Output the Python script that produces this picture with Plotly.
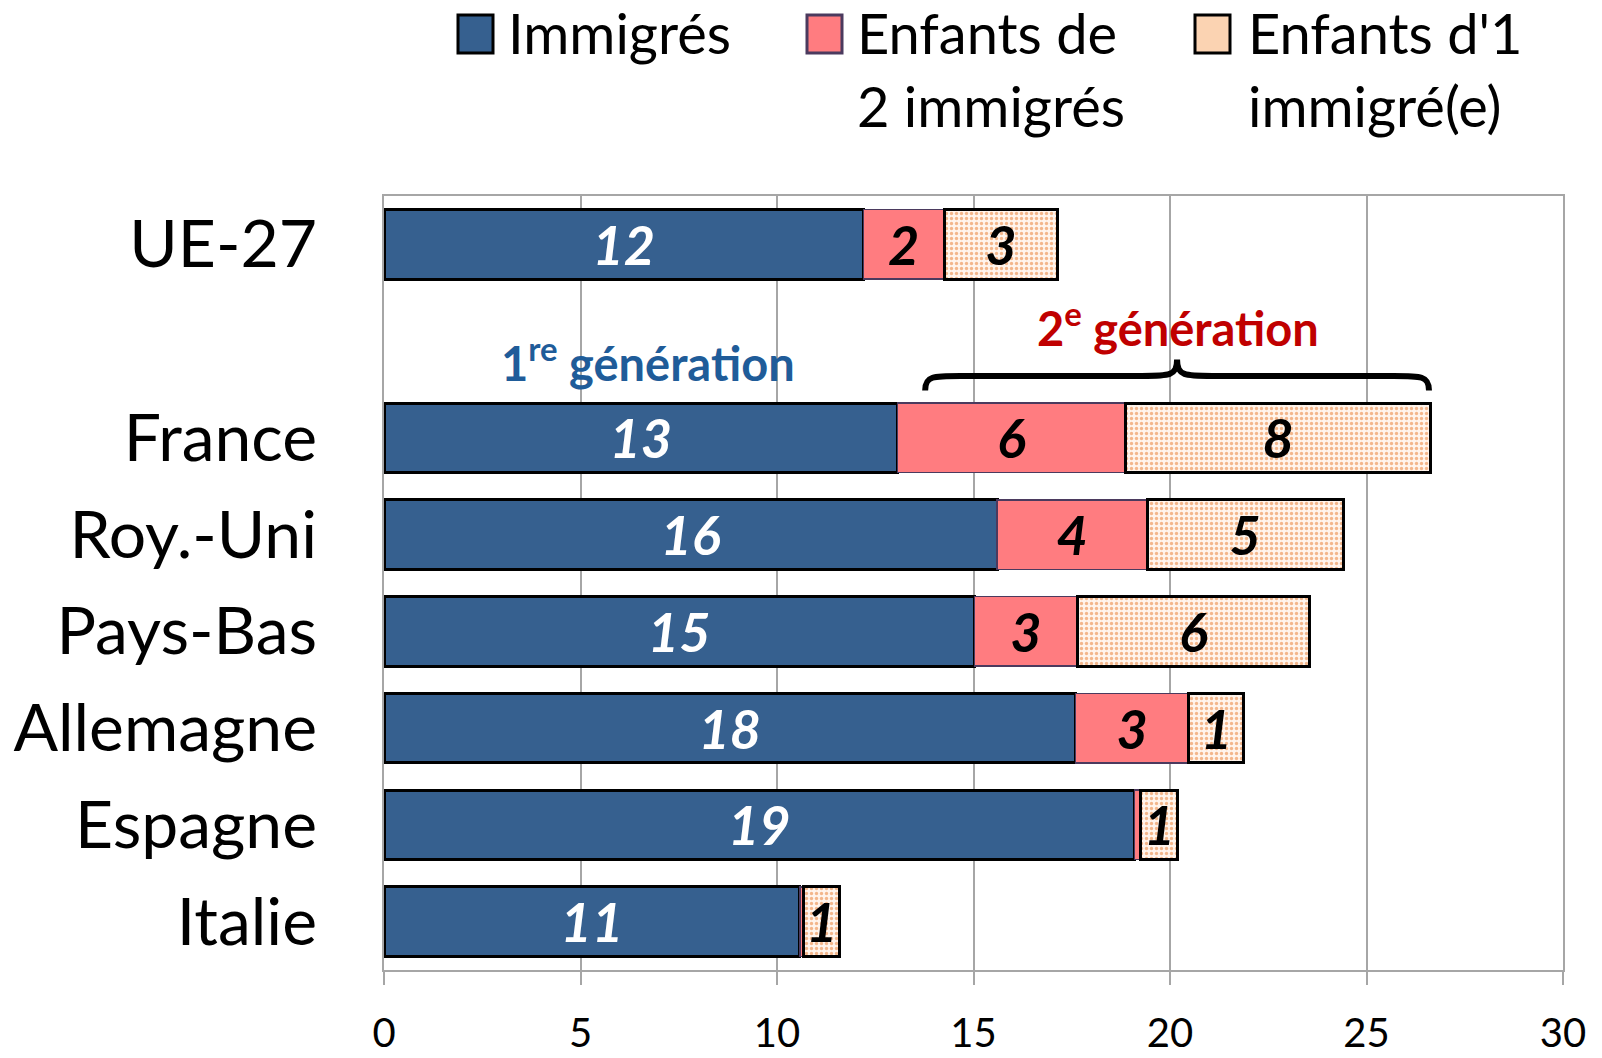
import plotly.graph_objects as go

countries = ["UE-27", "France", "Roy.-Uni", "Pays-Bas", "Allemagne", "Espagne", "Italie"]
immigres = [12.2, 13.07, 15.6, 15.02, 17.6, 19.1, 10.58]
enfants_2 = [2.05, 5.8, 3.82, 2.63, 2.88, 0.16, 0.1]
enfants_1 = [2.9, 7.77, 4.99, 5.9, 1.4, 0.94, 0.91]
lbl_immigres = ["12", "13", "16", "15", "18", "19", "11"]
lbl_enfants_2 = ["2", "6", "4", "3", "3", "", ""]
lbl_enfants_1 = ["3", "8", "5", "6", "1", "1", "1"]
legend_names = ["Immigrés", "Enfants de<br>2 immigrés", "Enfants d'1<br>immigré(e)"]
x_ticks = [0, 5, 10, 15, 20, 25, 30]

n = len(countries)
# one empty slot between UE-27 and the countries
ypos = [n - i if i == 0 else n - 1 - i for i in range(n)]

W, H = 1602, 1058
L, T = 384, 196
R = W - 1563
B = H - 970
PW, PH = W - L - R, H - T - B


def px2x(px):
    return (px - L) / PW


def px2y(py):
    return (H - B - py) / PH


FONT = "Lato, Carlito, 'Liberation Sans', sans-serif"
BLUE = "#36608F"
PINK = "#FF7C80"
LBL = 54

fig = go.Figure()
fig.add_trace(go.Bar(
    y=ypos, x=immigres, orientation="h", width=0.72, name=legend_names[0],
    marker=dict(color=BLUE, line=dict(color="black", width=3)),
    text=lbl_immigres, textposition="inside", insidetextanchor="middle",
    textangle=0, constraintext="none",
    textfont=dict(family=FONT, size=LBL, color="white", weight="bold", style="italic"),
))
fig.add_trace(go.Bar(
    y=ypos, x=enfants_2, orientation="h", width=0.72, name=legend_names[1],
    marker=dict(color=PINK, line=dict(color="#4B3A5E", width=1.5)),
    text=lbl_enfants_2, textposition="inside", insidetextanchor="middle",
    textangle=0, constraintext="none",
    textfont=dict(family=FONT, size=LBL, color="black", weight="bold", style="italic"),
))
fig.add_trace(go.Bar(
    y=ypos, x=enfants_1, orientation="h", width=0.72, name=legend_names[2],
    marker=dict(color="#FFF4EC", line=dict(color="black", width=3),
                pattern=dict(shape=".", fgcolor="#E8782A", size=5, solidity=0.35)),
    text=lbl_enfants_1, textposition="inside", insidetextanchor="middle",
    textangle=0, constraintext="none",
    textfont=dict(family=FONT, size=LBL, color="black", weight="bold", style="italic"),
))

GRID = "#A6A6A6"
fig.update_layout(
    width=W, height=H, barmode="stack", showlegend=False,
    margin=dict(l=L, r=R, t=T, b=B, pad=0, autoexpand=False),
    paper_bgcolor="white", plot_bgcolor="white",
    font=dict(family=FONT, color="black"),
    xaxis=dict(range=[x_ticks[0], x_ticks[-1]], tickvals=x_ticks, showgrid=True,
               gridcolor=GRID, gridwidth=1.5, zeroline=False, showline=True,
               linecolor=GRID, linewidth=1.5, mirror=True, ticks="outside",
               ticklen=13, tickwidth=1.5, tickcolor=GRID, automargin=False,
               tickfont=dict(family=FONT, size=40), ticklabelstandoff=14),
    yaxis=dict(range=[-0.5, n + 0.5], tickvals=ypos, ticktext=countries,
               showgrid=False, zeroline=False, showline=True, linecolor=GRID,
               linewidth=1.5, mirror=True, ticks="", automargin=False,
               tickfont=dict(family=FONT, size=66), ticklabelstandoff=52),
)

# Brace over France's second generation segments
fr = countries.index("France")
bx0 = immigres[fr] + 0.7
bx1 = immigres[fr] + enfants_2[fr] + enfants_1[fr] - 0.05
bm = (bx0 + bx1) / 2
gy = ypos[fr] + 1  # the empty slot
yb, ya, yt = gy - 0.51, gy - 0.36, gy - 0.19
d = 0.9
path = (f"M {bx0},{yb} C {bx0},{ya} {bx0+0.2},{ya} {bx0+d},{ya} "
        f"L {bm-d},{ya} C {bm-0.2},{ya} {bm},{ya} {bm},{yt} "
        f"C {bm},{ya} {bm+0.2},{ya} {bm+d},{ya} "
        f"L {bx1-d},{ya} C {bx1-0.2},{ya} {bx1},{ya} {bx1},{yb}")
fig.add_shape(type="path", path=path, xref="x", yref="y",
              line=dict(color="black", width=6))

fig.add_annotation(x=6.73, y=gy - 0.2, xref="x", yref="y", showarrow=False,
                   text="<b>1<sup>re</sup> génération</b>",
                   font=dict(family=FONT, size=47, color="#1F5C99"))
fig.add_annotation(x=20.2, y=gy + 0.17, xref="x", yref="y", showarrow=False,
                   text="<b>2<sup>e</sup> génération</b>",
                   font=dict(family=FONT, size=47, color="#C00000"))

# Manual legend
leg_colors = [BLUE, PINK, "#FBD3B2"]
leg_lines = ["black", "#4B3A5E", "black"]
leg_sym_px = [458, 807, 1195]
leg_txt_px = [506, 855, 1246]
for i, name in enumerate(legend_names):
    fig.add_shape(type="rect", xref="paper", yref="paper",
                  x0=px2x(leg_sym_px[i]), x1=px2x(leg_sym_px[i] + 35),
                  y0=px2y(53), y1=px2y(15),
                  fillcolor=leg_colors[i], line=dict(color=leg_lines[i], width=3))
    two = "<br>" in name
    fig.add_annotation(x=px2x(leg_txt_px[i]), y=px2y(69 if two else 33),
                       xref="paper", yref="paper", xanchor="left", yanchor="middle",
                       align="left", showarrow=False, text=name,
                       font=dict(family=FONT, size=56, color="black"))

fig.write_html(
    "out.html",
    config=dict(displayModeBar=False),
    post_script="document.body.style.margin='0';document.body.style.overflow='hidden';",
)
